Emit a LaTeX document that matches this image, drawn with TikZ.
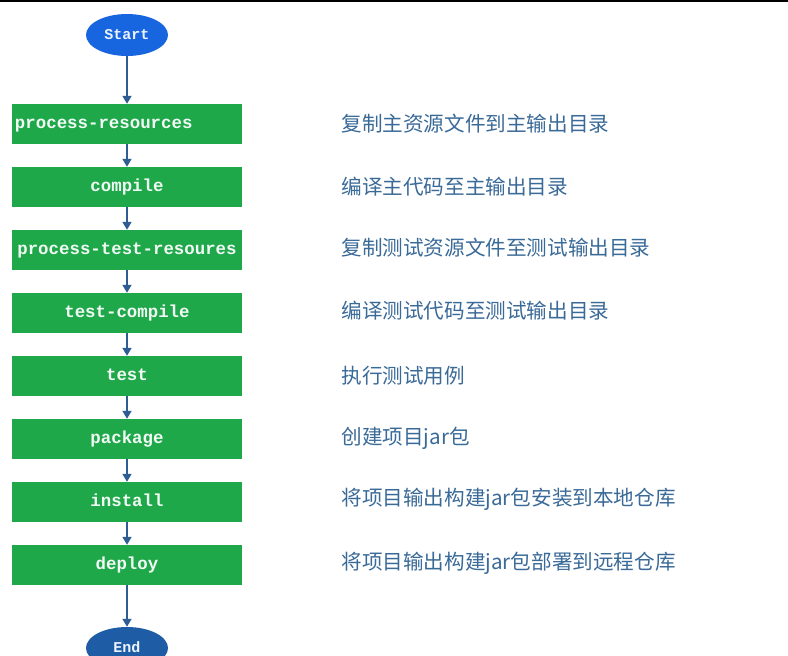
\documentclass[tikz,border=0pt]{standalone}
\usepackage{fontspec}
\setmonofont{Liberation Mono}
\newfontfamily\cjk{Noto Sans CJK SC}
\usepackage{xcolor}
\usetikzlibrary{arrows.meta,shapes.geometric}
\definecolor{stepgreen}{HTML}{1FA84A}
\definecolor{startblue}{HTML}{1766E0}
\definecolor{endblue}{HTML}{1F5CA6}
\definecolor{arrowblue}{HTML}{2D5D92}
\definecolor{notetext}{HTML}{3A6A98}

\begin{document}
\begin{tikzpicture}[x=1pt,y=-1pt,
    phase/.style={fill=stepgreen,minimum width=230pt,minimum height=40pt,
      inner sep=0pt,text height=12pt,text depth=3pt,text=white!94!stepgreen,
      font=\ttfamily\bfseries\fontsize{17.4}{17}\selectfont},
    terminal/.style={ellipse,minimum width=82pt,minimum height=42pt,inner sep=0pt,
      text height=10pt,text depth=2pt,
      text=white!92!startblue,font=\ttfamily\bfseries\fontsize{15}{15}\selectfont},
    note/.style={anchor=west,text=notetext,font=\cjk\fontsize{20.6}{20}\selectfont},
    flow/.style={-{Triangle[width=9pt,length=8pt]},arrowblue,line width=1.5pt}]
        \clip (0,0) rectangle (788,656);
        \fill[white] (0,0) rectangle (788,656);
        \draw[black,line width=2pt] (0,1) -- (788,1);

        % start / end
        \node[terminal,fill=startblue] (start) at (127,35) {Start};
        \node[terminal,fill=endblue] (end) at (127,648) {End};

        % lifecycle phases
        \node[phase,text width=224pt,align=left] (res) at (127,124) {process-resources};
        \node[phase] (comp) at (127,187) {compile};
        \node[phase] (testres) at (127,250) {process-test-resoures};
        \node[phase] (testcomp) at (127,313) {test-compile};
        \node[phase] (test) at (127,376) {test};
        \node[phase] (pkg) at (127,439) {package};
        \node[phase] (inst) at (127,502) {install};
        \node[phase] (depl) at (127,565) {deploy};

        % notes on the right
        \node[note] (nres) at (338,124) {复制主资源文件到主输出目录};
        \node[note] (ncomp) at (338,187) {编译主代码至主输出目录};
        \node[note] (ntestres) at (338,248) {复制测试资源文件至测试输出目录};
        \node[note] (ntestcomp) at (338,311) {编译测试代码至测试输出目录};
        \node[note] (ntest) at (338,376) {执行测试用例};
        \node[note] (npkg) at (338,438) {创建项目jar包};
        \node[note] (ninst) at (338,499) {将项目输出构建jar包安装到本地仓库};
        \node[note] (ndepl) at (338,563) {将项目输出构建jar包部署到远程仓库};

        % arrows
        \draw[flow] (start) -- (res);
        \draw[flow] (res) -- (comp);
        \draw[flow] (comp) -- (testres);
        \draw[flow] (testres) -- (testcomp);
        \draw[flow] (testcomp) -- (test);
        \draw[flow] (test) -- (pkg);
        \draw[flow] (pkg) -- (inst);
        \draw[flow] (inst) -- (depl);
        \draw[flow] (depl) -- (end);
      \end{tikzpicture}
\end{document}
